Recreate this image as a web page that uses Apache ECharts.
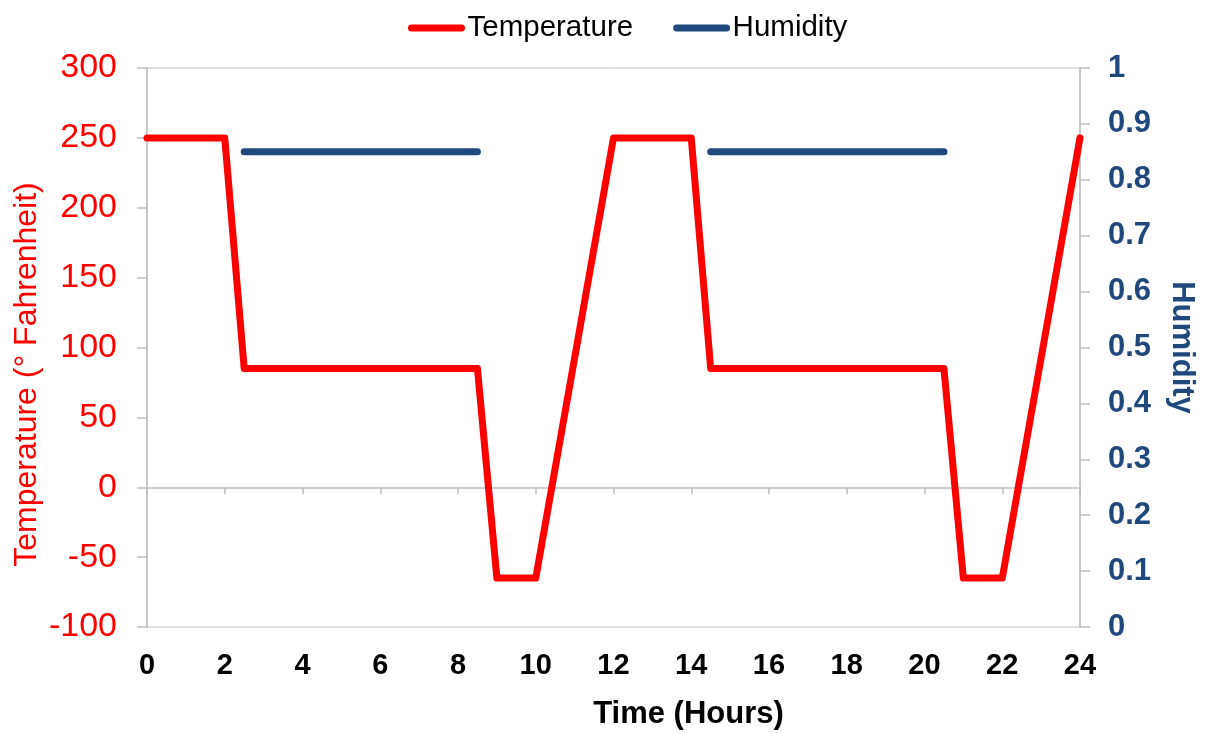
<!DOCTYPE html>
<html>
<head>
<meta charset="utf-8">
<script src="https://cdn.jsdelivr.net/npm/echarts@6/dist/echarts.min.js"></script>
<style>html,body{margin:0;padding:0;background:#fff}#c{width:1209px;height:733px}</style>
</head>
<body>
<div id="c"></div>
<script>
// Data
var seriesNames = ['Temperature', 'Humidity'];
var tempHours = [0, 2, 2.5, 8.5, 9, 10, 12, 14, 14.5, 20.5, 21, 22, 24];
var tempValues = [250, 250, 85, 85, -65, -65, 250, 250, 85, 85, -65, -65, 250];
var humHours = [2.5, 8.5, 11, 14.5, 20.5];
var humValues = [0.85, 0.85, '-', 0.85, 0.85];
var xTicks = [0, 2, 4, 6, 8, 10, 12, 14, 16, 18, 20, 22, 24];
var tempTicks = [-100, -50, 0, 50, 100, 150, 200, 250, 300];
var humTicks = [0, 0.1, 0.2, 0.3, 0.4, 0.5, 0.6, 0.7, 0.8, 0.9, 1];

var RED = '#FF0000', BLUE = '#1F497D', GREY = '#BFBFBF';
var FONT = '"Liberation Sans", Arial, sans-serif';

function pairs(xs, ys) { return xs.map(function (x, i) { return [x, ys[i]]; }); }

var chart = echarts.init(document.getElementById('c'), null, {renderer: 'canvas'});
var legendIcon = 'path://M3.5,0 L53.5,0 A3.5,3.5 0 0 1 53.5,7 L3.5,7 A3.5,3.5 0 0 1 3.5,0 Z';
chart.setOption({
  animation: false,
  backgroundColor: '#fff',
  textStyle: {fontFamily: FONT},
  legend: {
    data: [{name: seriesNames[0], icon: legendIcon, itemStyle: {color: RED}},
           {name: seriesNames[1], icon: legendIcon, itemStyle: {color: BLUE}}],
    left: 403, top: 8,
    itemWidth: 58, itemHeight: 7, itemGap: 40,
    textStyle: {fontSize: 29.5, color: '#000', fontFamily: FONT, padding: [0, 0, 0, -3]}
  },
  grid: {left: 147, right: 129, top: 68, bottom: 106, show: true, borderColor: GREY, borderWidth: 1,
         containLabel: false, outerBoundsMode: 'none'},
  xAxis: [{
    type: 'value', min: xTicks[0], max: xTicks[xTicks.length - 1], interval: 2,
    position: 'bottom',
    name: 'Time (Hours)', nameLocation: 'middle', nameGap: 72,
    nameTextStyle: {fontSize: 31, fontWeight: 'bold', color: '#000', fontFamily: FONT, padding: [0, 0, 0, 150]},
    axisLine: {show: false, onZero: false},
    axisTick: {show: false},
    splitLine: {show: false},
    axisLabel: {fontSize: 29, fontWeight: 'bold', color: '#000', margin: 24, fontFamily: FONT}
  }, {
    type: 'value', min: xTicks[0], max: xTicks[xTicks.length - 1], interval: 2,
    position: 'bottom',
    axisLine: {show: true, onZero: true, onZeroAxisIndex: 0, lineStyle: {color: GREY, width: 1.5}},
    axisTick: {show: true, length: 7, lineStyle: {color: GREY, width: 1.5}},
    splitLine: {show: false},
    axisLabel: {show: false}
  }],
  yAxis: [{
    type: 'value', min: -100, max: 300, interval: 50, position: 'left',
    name: 'Temperature (° Fahrenheit)', nameLocation: 'middle', nameGap: 104, nameMoveOverlap: false,
    nameTextStyle: {fontSize: 32, color: RED, fontFamily: FONT, padding: [0, 54, 0, 0]},
    axisLine: {show: true, onZero: false, lineStyle: {color: GREY, width: 1.5}},
    axisTick: {show: true, length: 10, lineStyle: {color: GREY, width: 1.5}},
    splitLine: {show: false},
    axisLabel: {fontSize: 34, color: RED, margin: 30, fontFamily: FONT}
  }, {
    type: 'value', min: 0, max: 1, interval: 0.1, position: 'right',
    name: 'Humidity', nameLocation: 'middle', nameGap: 86, nameRotate: -90,
    nameTextStyle: {fontSize: 31, fontWeight: 'bold', color: BLUE, fontFamily: FONT},
    axisLine: {show: true, onZero: false, lineStyle: {color: GREY, width: 1.5}},
    axisTick: {show: true, length: 10, lineStyle: {color: GREY, width: 1.5}},
    splitLine: {show: false},
    axisLabel: {fontSize: 31, fontWeight: 'bold', color: BLUE, margin: 28, fontFamily: FONT,
      formatter: function (v) { return String(Math.round(v * 10) / 10); }}
  }],
  series: [{
    name: seriesNames[0], type: 'line', xAxisIndex: 0, yAxisIndex: 0,
    data: pairs(tempHours, tempValues),
    showSymbol: false, symbol: 'none',
    lineStyle: {color: RED, width: 7, cap: 'round', join: 'round'},
    itemStyle: {color: RED}, z: 3
  }, {
    name: seriesNames[1], type: 'line', xAxisIndex: 0, yAxisIndex: 1,
    data: pairs(humHours, humValues), connectNulls: false,
    showSymbol: false, symbol: 'none',
    lineStyle: {color: BLUE, width: 7, cap: 'round', join: 'round'},
    itemStyle: {color: BLUE}, z: 2
  }]
});
</script>
</body>
</html>
